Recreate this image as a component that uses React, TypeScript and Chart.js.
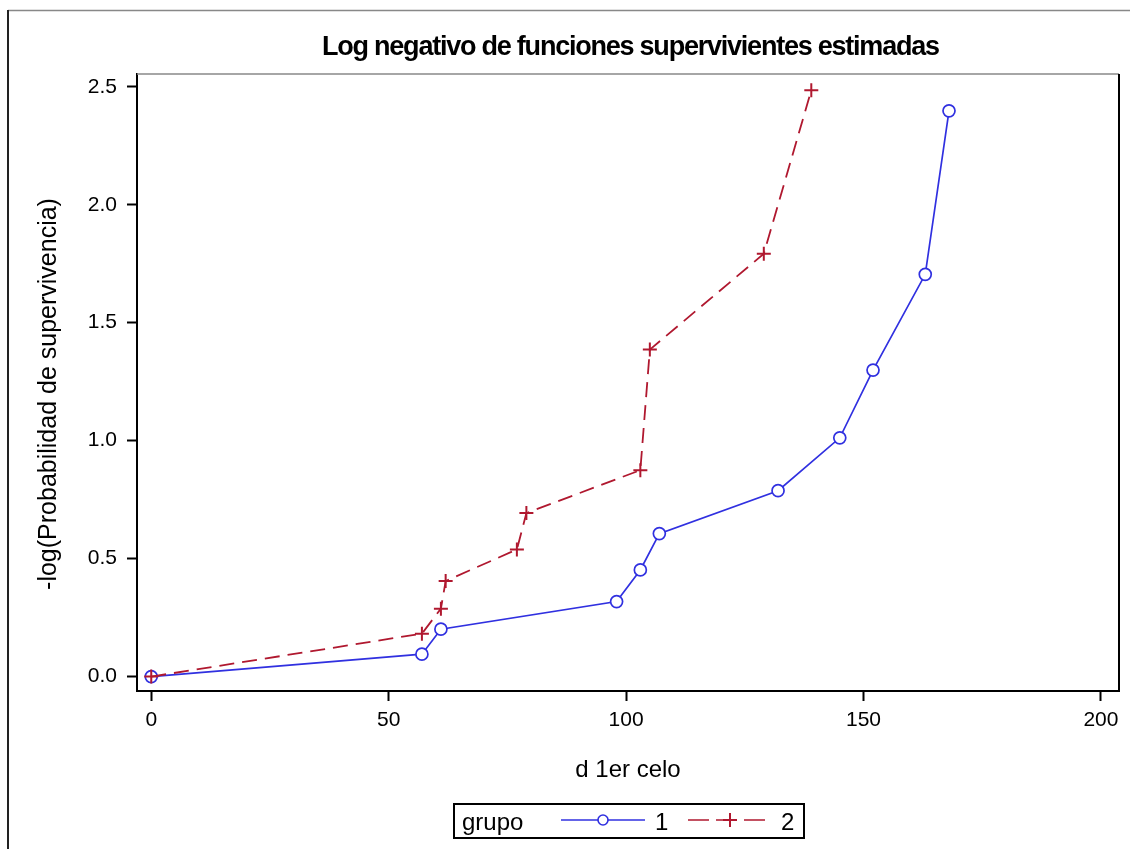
import React, { useEffect, useRef } from "react";
import { Chart, registerables } from "chart.js";

Chart.register(...registerables);

const TITLE = "Log negativo de funciones supervivientes estimadas";
const X_LABEL = "d 1er celo";
const Y_LABEL = "-log(Probabilidad de supervivencia)";
const LEGEND_TITLE = "grupo";
const SERIES_NAMES = ["1", "2"];

const group1Days = [0, 57, 61, 98, 103, 107, 132, 145, 152, 163, 168];
const group1Values = [0, 0.095, 0.201, 0.318, 0.452, 0.606, 0.788, 1.012, 1.299, 1.705, 2.398];
const group2Days = [0, 57, 61, 62, 77, 79, 103, 105, 129, 139];
const group2Values = [0, 0.182, 0.288, 0.405, 0.539, 0.693, 0.875, 1.386, 1.792, 2.485];

const xTicks = [0, 50, 100, 150, 200];
const yTicks = [0, 0.5, 1.0, 1.5, 2.0, 2.5];

const BLUE = "#3030e0";
const RED = "#b0182f";
const FONT = "'Liberation Sans', Arial, sans-serif";

function drawFittedText(ctx: CanvasRenderingContext2D, text: string, x: number, y: number, width: number) {
  const natural = ctx.measureText(text).width;
  const anyCtx = ctx as any;
  if ("letterSpacing" in anyCtx) {
    const sp = (width - natural) / (text.length - 1);
    anyCtx.letterSpacing = sp + "px";
    const w = ctx.measureText(text).width;
    ctx.textAlign = "left";
    ctx.fillText(text, x - w / 2 + sp / 2, y);
    anyCtx.letterSpacing = "0px";
  } else {
    ctx.save();
    ctx.translate(x, y);
    ctx.scale(width / natural, 1);
    ctx.textAlign = "center";
    ctx.fillText(text, 0, 0);
    ctx.restore();
  }
}

const decorPlugin = {
  id: "decor",
  afterDraw(chart: any) {
    const ctx: CanvasRenderingContext2D = chart.ctx;
    const a = chart.chartArea;
    ctx.save();
    // outer frame
    ctx.strokeStyle = "#888";
    ctx.lineWidth = 1.5;
    ctx.beginPath();
    ctx.moveTo(8, 10.5);
    ctx.lineTo(1130, 10.5);
    ctx.stroke();
    ctx.strokeStyle = "#222";
    ctx.lineWidth = 2;
    ctx.beginPath();
    ctx.moveTo(8, 10);
    ctx.lineTo(8, 849);
    ctx.stroke();
    // plot box top and right
    ctx.strokeStyle = "#888";
    ctx.lineWidth = 1.5;
    ctx.beginPath();
    ctx.moveTo(a.left, a.top);
    ctx.lineTo(a.right, a.top);
    ctx.stroke();
    ctx.strokeStyle = "#000";
    ctx.lineWidth = 2;
    ctx.beginPath();
    ctx.moveTo(a.right, a.top);
    ctx.lineTo(a.right, a.bottom + 1);
    ctx.stroke();

    ctx.fillStyle = "#000";
    ctx.textBaseline = "alphabetic";
    // title
    ctx.font = `bold 27px ${FONT}`;
    drawFittedText(ctx, TITLE, 631, 55, 618);
    // x label
    ctx.font = `24px ${FONT}`;
    ctx.textAlign = "center";
    ctx.fillText(X_LABEL, 628, 777);
    // y label
    ctx.save();
    ctx.translate(56, 394);
    ctx.rotate(-Math.PI / 2);
    ctx.font = `25px ${FONT}`;
    ctx.textAlign = "center";
    ctx.fillText(Y_LABEL, 0, 0);
    ctx.restore();

    // legend
    ctx.font = `24px ${FONT}`;
    ctx.strokeStyle = "#000";
    ctx.lineWidth = 2;
    ctx.strokeRect(454, 804, 350, 34);
    ctx.textAlign = "left";
    ctx.fillText(LEGEND_TITLE, 462, 830);
    const ly = 820;
    ctx.strokeStyle = BLUE;
    ctx.lineWidth = 1.6;
    ctx.beginPath();
    ctx.moveTo(561, ly);
    ctx.lineTo(645, ly);
    ctx.stroke();
    ctx.fillStyle = "#fff";
    ctx.beginPath();
    ctx.arc(603, ly, 5, 0, Math.PI * 2);
    ctx.fill();
    ctx.stroke();
    ctx.fillStyle = "#000";
    ctx.fillText(SERIES_NAMES[0], 655, 830);
    ctx.strokeStyle = RED;
    ctx.setLineDash([21, 7]);
    ctx.beginPath();
    ctx.moveTo(688, ly);
    ctx.lineTo(766, ly);
    ctx.stroke();
    ctx.setLineDash([]);
    ctx.lineWidth = 2;
    ctx.beginPath();
    ctx.moveTo(723, ly);
    ctx.lineTo(737, ly);
    ctx.moveTo(730, ly - 7);
    ctx.lineTo(730, ly + 7);
    ctx.stroke();
    ctx.fillText(SERIES_NAMES[1], 781, 830);
    ctx.restore();
  },
};

export default function App() {
  const ref = useRef<HTMLCanvasElement | null>(null);
  useEffect(() => {
    if (!ref.current) return;
    const chart = new Chart(ref.current, {
      type: "line",
      data: {
        datasets: [
          {
            label: SERIES_NAMES[0],
            data: group1Days.map((d, i) => ({ x: d, y: group1Values[i] })),
            borderColor: BLUE,
            borderWidth: 1.7,
            pointStyle: "circle",
            pointRadius: 6,
            pointBorderWidth: 1.7,
            pointBorderColor: BLUE,
            pointBackgroundColor: "rgba(255,255,255,1)",
            tension: 0,
            order: 2,
          },
          {
            label: SERIES_NAMES[1],
            data: group2Days.map((d, i) => ({ x: d, y: group2Values[i] })),
            borderColor: RED,
            borderWidth: 1.8,
            borderDash: [15, 8],
            pointStyle: "cross",
            pointRadius: 7,
            pointBorderWidth: 2,
            pointBorderColor: RED,
            pointBackgroundColor: RED,
            tension: 0,
            order: 1,
          },
        ],
      },
      options: {
        animation: false,
        responsive: false,
        maintainAspectRatio: false,
        layout: { padding: { left: 0, top: 74, right: 11, bottom: 0 } },
        plugins: {
          legend: { display: false },
          title: { display: false },
          tooltip: { enabled: false },
        },
        scales: {
          x: {
            type: "linear",
            min: -3,
            max: 203.8,
            border: { display: true, color: "#000", width: 2 },
            grid: { drawOnChartArea: false, drawTicks: true, tickLength: 10, tickColor: "#000", tickWidth: 2 },
            ticks: {
              color: "#000",
              font: { family: FONT, size: 21 },
              padding: 7,
              autoSkip: false,
              maxRotation: 0,
              callback: (v: any) => String(v),
            },
            afterBuildTicks: (s: any) => {
              s.ticks = xTicks.map((v) => ({ value: v }));
            },
            afterFit: (s: any) => {
              s.height = 158;
            },
          },
          y: {
            type: "linear",
            min: -0.061,
            max: 2.554,
            border: { display: true, color: "#000", width: 2 },
            grid: { drawOnChartArea: false, drawTicks: true, tickLength: 10, tickColor: "#000", tickWidth: 2 },
            ticks: {
              color: "#000",
              font: { family: FONT, size: 21 },
              padding: 10,
              autoSkip: false,
              callback: (v: any) => Number(v).toFixed(1),
            },
            afterBuildTicks: (s: any) => {
              s.ticks = yTicks.map((v) => ({ value: v }));
            },
            afterFit: (s: any) => {
              s.width = 137;
            },
          },
        },
      },
      plugins: [decorPlugin],
    });
    return () => chart.destroy();
  }, []);
  return (
    <div style={{ position: "fixed", left: 0, top: 0, width: 1130, height: 849, background: "#fff" }}>
      <canvas ref={ref} width={1130} height={849} style={{ display: "block", width: 1130, height: 849 }} />
    </div>
  );
}
